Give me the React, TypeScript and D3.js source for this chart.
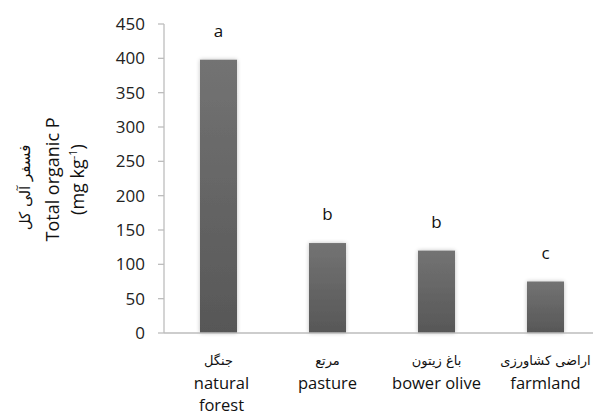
import React from "react";
import * as d3 from "d3";

const categoriesFa = ["جنگل", "مرتع", "باغ زیتون", "اراضی کشاورزی"];
const categoriesEn = [["natural", "forest"], ["pasture"], ["bower olive"], ["farmland"]];
const values = [398, 131, 120, 75];
const groupLetters = ["a", "b", "b", "c"];
const yTicks = [0, 50, 100, 150, 200, 250, 300, 350, 400, 450];

const W = 593;
const H = 416;
const left = 164;
const right = 600;
const top = 24;
const bottom = 333;
const font = "'Open Sans', 'Noto Sans', sans-serif";
const faFont = "'DejaVu Sans', 'Noto Sans', sans-serif";

export default function App() {
  const x = d3.scaleBand<number>().domain(d3.range(values.length)).range([left, right]).paddingInner(0.66).paddingOuter(0.33);
  const y = d3.scaleLinear().domain([0, 450]).range([bottom, top]);
  const cx = (i: number) => (x(i) as number) + x.bandwidth() / 2;

  return (
    <svg width={W} height={H} style={{ position: "absolute", left: 0, top: 0, background: "#fff" }} fontFamily={font}>
      <defs>
        <linearGradient id="barFill" x1="0" y1="0" x2="0" y2="1">
          <stop offset="0" stopColor="#737373" />
          <stop offset="1" stopColor="#575757" />
        </linearGradient>
        <filter id="barShadow" x="-30%" y="-10%" width="160%" height="120%">
          <feGaussianBlur in="SourceAlpha" stdDeviation="2" />
          <feComponentTransfer>
            <feFuncA type="linear" slope="0.25" />
          </feComponentTransfer>
          <feMerge>
            <feMergeNode />
            <feMergeNode in="SourceGraphic" />
          </feMerge>
        </filter>
      </defs>

      {/* bars */}
      {values.map((v, i) => (
        <rect key={i} x={x(i)} y={y(v)} width={x.bandwidth()} height={bottom - y(v)} fill="url(#barFill)" filter="url(#barShadow)" />
      ))}

      {/* significance letters */}
      {values.map((v, i) => (
        <text key={i} x={cx(i)} y={y(v) - 23} textAnchor="middle" fontSize={17} fill="#111">
          {groupLetters[i]}
        </text>
      ))}

      {/* y axis */}
      <line x1={left} x2={left} y1={top} y2={bottom} stroke="#bdbdbd" strokeWidth={1.3} />
      {yTicks.map((t) => (
        <g key={t}>
          <line x1={left - 6} x2={left} y1={y(t)} y2={y(t)} stroke="#bdbdbd" strokeWidth={1.3} />
          <text x={left - 19} y={y(t)} dy="0.36em" textAnchor="end" fontSize={17} fill="#222">
            {t}
          </text>
        </g>
      ))}

      {/* x axis */}
      <line x1={left} x2={right} y1={bottom} y2={bottom} stroke="#bdbdbd" strokeWidth={1.5} />

      {/* category labels */}
      {categoriesFa.map((fa, i) => (
        <g key={i}>
          <text x={cx(i)} y={365} textAnchor="middle" fontSize={13} fill="#111" direction="rtl" fontFamily={faFont}>
            {fa}
          </text>
          {categoriesEn[i].map((line, j) => (
            <text key={j} x={cx(i) + (i === 0 ? 3 : 0)} y={389 + j * 22} textAnchor="middle" fontSize={16.5} fill="#111">
              {line}
            </text>
          ))}
        </g>
      ))}

      {/* y axis title */}
      <g transform={`translate(0, ${(top + bottom) / 2 + 1}) rotate(-90)`}>
        <text x={-8} y={30} textAnchor="middle" fontSize={15} fill="#111" direction="rtl" fontFamily={faFont}>
          فسفر آلی کل
        </text>
        <text x={0} y={59} textAnchor="middle" fontSize={18} fill="#111">
          Total organic P
        </text>
        <text x={0} y={84} textAnchor="middle" fontSize={18} fill="#111">
          (mg kg
          <tspan dy={-7} fontSize={11}>-1</tspan>
          <tspan dy={7}>)</tspan>
        </text>
      </g>
    </svg>
  );
}
